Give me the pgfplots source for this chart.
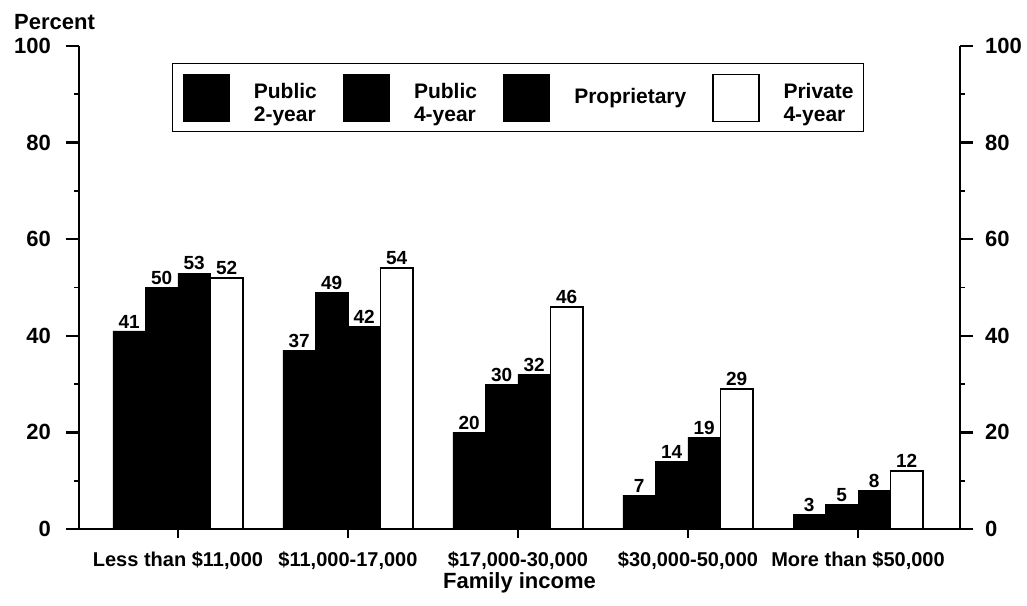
\documentclass[border=0pt]{standalone}
\usepackage{pgfplots}
\pgfplotsset{compat=1.18}
\usepackage{fontspec}
\setmainfont{Liberation Sans}
\pgfplotsset{mylegimg/.style={legend image code/.code={\draw[##1,line width=0.6pt] (0pt,-11.75pt) rectangle (23pt,11.75pt);}}}
\newcommand{\twol}[2]{\begin{tabular}{@{}l@{}}#1\\#2\end{tabular}}
\begin{document}
\begin{tikzpicture}
% bars and x axis
\begin{axis}[name=main,
  scale only axis, width=440.5pt, height=241.5pt,
  xmin=-0.582, xmax=4.6, ymin=0, ymax=100,
  axis x line*=bottom, axis y line=none,
  ybar=0pt, bar width=16.25pt,
  xtick={0,...,4},
  xticklabels={{Less than \$11,000},{\$11,000-17,000},{\$17,000-30,000},{\$30,000-50,000},{More than \$50,000}},
  tick align=outside, major tick length=4.5pt,
  axis line style={line width=1.0pt,-},
  x axis line style={-},
  major tick style={line width=0.9pt,black},
  xticklabel style={font=\bfseries\fontsize{10}{12}\selectfont},
  xticklabel shift=3.5pt,
  xlabel={Family income},
  xlabel style={font=\bfseries\fontsize{11}{13}\selectfont, yshift=5.5pt},
  /pgf/number format/assume math mode=true,
  nodes near coords,
  nodes near coords style={font=\bfseries\fontsize{9.5}{11}\selectfont, inner sep=1.2pt, black},
  every axis plot post/.append style={mylegimg},
  legend style={at={(0.1056,0.9648)}, anchor=north west, draw=black, line width=0.6pt, fill=white,
    legend columns=4, font=\bfseries\fontsize{10.5}{11.5}\selectfont,
    inner xsep=5pt, inner ysep=5pt,
    nodes={inner sep=0pt, anchor=west},
    /tikz/every odd column/.append style={column sep=12pt},
    /tikz/every even column/.append style={column sep=13pt}},
]
\addplot[fill=black, draw=black] coordinates {(0,41) (1,37) (2,20) (3,7) (4,3)};
\addlegendentry{\twol{Public}{2-year}}
\addplot[fill=black, draw=black] coordinates {(0,50) (1,49) (2,30) (3,14) (4,5)};
\addlegendentry{\twol{Public}{4-year}}
\addplot[fill=black, draw=black] coordinates {(0,53) (1,42) (2,32) (3,19) (4,8)};
\addlegendentry{Proprietary}
\addplot[fill=white, draw=black, line width=0.8pt] coordinates {(0,52) (1,54) (2,46) (3,29) (4,12)};
\addlegendentry{\twol{Private}{4-year}}
\end{axis}
% left y axis
\begin{axis}[
  scale only axis, width=440.5pt, height=241.5pt,
  xmin=-0.582, xmax=4.6, ymin=0, ymax=100,
  axis y line*=left, axis x line=none, clip=false,
  ytick={0,20,...,100}, minor y tick num=1,
  tick align=outside, major tick length=6.5pt, minor tick length=2.5pt,
  axis line style={line width=1.2pt,-},
  y axis line style={-},
  major tick style={line width=1.1pt,black},
  minor tick style={line width=0.8pt,black},
  yticklabel style={font=\bfseries\fontsize{11}{13}\selectfont},
  /pgf/number format/assume math mode=true,
  yticklabel shift=4pt,
]
\node[anchor=base, font=\bfseries\fontsize{11}{13}\selectfont, xshift=-12.25pt, yshift=8pt] at (rel axis cs:0,1) {Percent};
\end{axis}
% right y axis
\begin{axis}[
  scale only axis, width=440.5pt, height=241.5pt,
  xmin=-0.582, xmax=4.6, ymin=0, ymax=100,
  axis y line*=right, axis x line=none,
  ytick={0,20,...,100}, minor y tick num=1,
  tick align=outside, major tick length=6.5pt, minor tick length=2.5pt,
  axis line style={line width=1.2pt,-},
  y axis line style={-},
  major tick style={line width=1.1pt,black},
  minor tick style={line width=0.8pt,black},
  yticklabel style={font=\bfseries\fontsize{11}{13}\selectfont},
  /pgf/number format/assume math mode=true,
  yticklabel shift=2.5pt,
]
\end{axis}
\pgfresetboundingbox
\useasboundingbox (-39.5pt,-38pt) rectangle (474pt,264.5pt);
\end{tikzpicture}
\end{document}
